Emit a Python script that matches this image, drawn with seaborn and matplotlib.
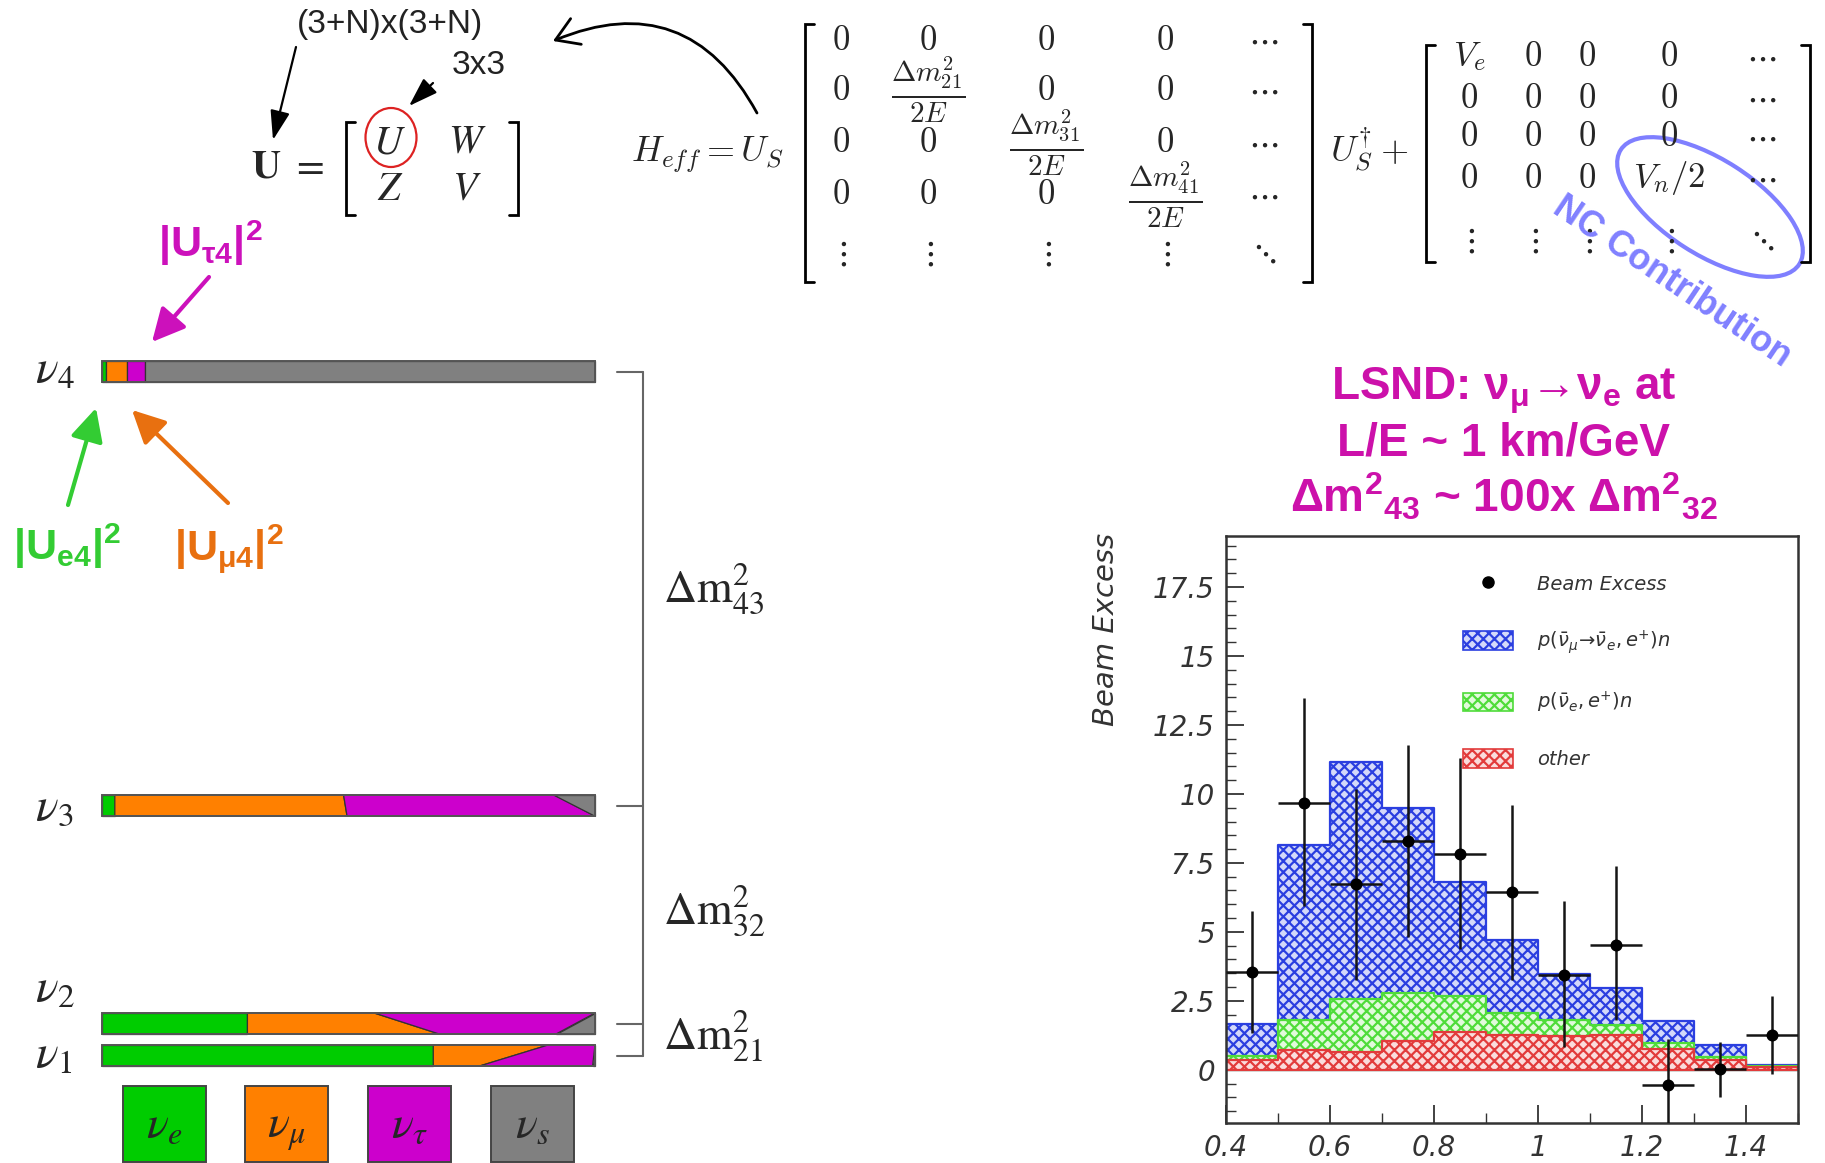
import numpy as np
import pandas as pd
import matplotlib
matplotlib.use("Agg")
import matplotlib.pyplot as plt
import seaborn as sns
from matplotlib.patches import Ellipse, Rectangle, Polygon, FancyArrowPatch, Patch
from matplotlib.lines import Line2D
from matplotlib.ticker import MultipleLocator
from matplotlib.font_manager import FontProperties

# ---------------- data ----------------
bin_edges = [0.4, 0.5, 0.6, 0.7, 0.8, 0.9, 1.0, 1.1, 1.2, 1.3, 1.4, 1.5]
bin_centers = [0.45, 0.55, 0.65, 0.75, 0.85, 0.95, 1.05, 1.15, 1.25, 1.35, 1.45]
osc_stack = [1.67, 8.14, 11.16, 9.49, 6.80, 4.72, 3.47, 2.96, 1.76, 0.88, 0.19]
nue_stack = [0.49, 1.82, 2.56, 2.80, 2.68, 2.05, 1.79, 1.64, 0.97, 0.48, 0.15]
other_bkg = [0.36, 0.70, 0.65, 1.04, 1.37, 1.25, 1.22, 1.26, 0.74, 0.36, 0.10]
excess = [3.53, 9.67, 6.73, 8.29, 7.83, 6.44, 3.45, 4.54, -0.55, 0.03, 1.26]
excess_err_up = [2.23, 3.80, 3.46, 3.47, 3.48, 3.16, 2.65, 2.83, 1.67, 0.98, 1.42]
excess_err_down = [2.19, 3.72, 3.46, 3.48, 3.47, 3.17, 2.63, 2.75, 1.75, 1.00, 1.41]
x_tick_vals = [0.4, 0.6, 0.8, 1.0, 1.2, 1.4]
x_tick_labels = ["0.4", "0.6", "0.8", "1", "1.2", "1.4"]
y_tick_vals = [0, 2.5, 5, 7.5, 10, 12.5, 15, 17.5]
y_tick_labels = ["0", "2.5", "5", "7.5", "10", "12.5", "15", "17.5"]
legend_labels = ["Beam Excess",
                 r"$p(\bar{\nu}_{\mu}\!\rightarrow\!\bar{\nu}_{e},e^{+})n$",
                 r"$p(\bar{\nu}_{e},e^{+})n$",
                 "other"]

mass_states = [r"$\nu_1$", r"$\nu_2$", r"$\nu_3$", r"$\nu_4$"]
flavours = [r"$\nu_e$", r"$\nu_\mu$", r"$\nu_\tau$", r"$\nu_s$"]
# cumulative flavour boundaries (e|mu, mu|tau, tau|s) along top and bottom edge of each bar
mix_top = [[0.672, 0.905, 1.000], [0.295, 0.552, 1.000], [0.026, 0.490, 0.917], [0.009, 0.050, 0.088]]
mix_bottom = [[0.672, 0.766, 0.995], [0.295, 0.684, 0.921], [0.026, 0.497, 1.000], [0.009, 0.050, 0.088]]
splittings = [r"$\Delta\mathrm{m}^2_{21}$", r"$\Delta\mathrm{m}^2_{32}$", r"$\Delta\mathrm{m}^2_{43}$"]

heff_rows = [["0", "0", "0", "0", r"\cdots"],
             ["0", r"\frac{\Delta m^2_{21}}{2E}", "0", "0", r"\cdots"],
             ["0", "0", r"\frac{\Delta m^2_{31}}{2E}", "0", r"\cdots"],
             ["0", "0", "0", r"\frac{\Delta m^2_{41}}{2E}", r"\cdots"],
             [r"\vdots", r"\vdots", r"\vdots", r"\vdots", r"\ddots"]]
pot_rows = [["V_e", "0", "0", "0", r"\cdots"],
            ["0", "0", "0", "0", r"\cdots"],
            ["0", "0", "0", "0", r"\cdots"],
            ["0", "0", "0", "V_n/2", r"\cdots"],
            [r"\vdots", r"\vdots", r"\vdots", r"\vdots", r"\ddots"]]
title_lines = [r"LSND: ν$_{\mathbf{μ}}$→ν$_{\mathbf{e}}$ at",
               "L/E ~ 1 km/GeV",
               r"Δm$^{\mathbf{2}}{}_{\mathbf{43}}$ ~ 100x Δm$^{\mathbf{2}}{}_{\mathbf{32}}$"]

# ---------------- style ----------------
sns.set_theme(style="white")
plt.rcParams["font.family"] = ["Liberation Sans", "DejaVu Sans"]
plt.rcParams["mathtext.fontset"] = "custom"
plt.rcParams["mathtext.rm"] = "Liberation Sans"
plt.rcParams["mathtext.bf"] = "Liberation Sans:bold"
plt.rcParams["mathtext.it"] = "Liberation Sans:italic"
plt.rcParams["hatch.linewidth"] = 1.6

W, H = 1825, 1163
fig = plt.figure(figsize=(W / 100, H / 100), dpi=100)
fig.patch.set_facecolor("white")

# ---------------- histogram ----------------
hx0, hx1, hy0, hy1 = 1226, 1798, 536, 1123
ax_h = fig.add_axes([hx0 / W, 1 - hy1 / H, (hx1 - hx0) / W, (hy1 - hy0) / H])
layer_cols = ["#2b3fe0", "#4fdc3a", "#e23b3b"]
layer_tints = ["#d4d9fa", "#e2fadc", "#fadcdc"]
hatch_pat = "xxx"
for vals, col, tint in zip([osc_stack, nue_stack, other_bkg], layer_cols, layer_tints):
    sns.histplot(x=bin_centers, weights=vals, bins=bin_edges, element="step", fill=True,
                 facecolor=tint, edgecolor=col, hatch=hatch_pat, linewidth=1.6,
                 alpha=1, ax=ax_h)
ax_h.errorbar(bin_centers, excess, xerr=0.05, yerr=[excess_err_down, excess_err_up],
              fmt="none", ecolor="#151515", elinewidth=1.8, capsize=0, zorder=4)
sns.scatterplot(x=bin_centers, y=excess, color="black", s=75, linewidth=0, ax=ax_h, zorder=5)

ax_h.set_xlim(0.4, 1.5)
ax_h.set_ylim(-1.93, 19.35)
ax_h.set_xticks(x_tick_vals)
ax_h.set_xticklabels(x_tick_labels)
ax_h.xaxis.set_minor_locator(MultipleLocator(0.1))
ax_h.set_yticks(y_tick_vals)
ax_h.set_yticklabels(y_tick_labels)
ax_h.yaxis.set_minor_locator(MultipleLocator(0.5))
ax_h.tick_params(which="both", direction="in", bottom=True, left=True, top=False, right=False,
                 color="#333333", labelcolor="#333333")
ax_h.tick_params(which="major", length=13, width=1.3, labelsize=20, pad=8)
ax_h.tick_params(which="minor", length=7, width=1.0)
for lab in ax_h.get_xticklabels() + ax_h.get_yticklabels():
    lab.set_fontstyle("italic")
    lab.set_family("DejaVu Sans")
for sp in ax_h.spines.values():
    sp.set_color("#333333")
    sp.set_linewidth(1.8)
ax_h.set_xlabel("")
ax_h.set_ylabel("Beam Excess", fontsize=21, style="italic", family="DejaVu Sans", color="#333333")
ax_h.yaxis.set_label_coords(-0.185, 0.84)

handles = [Line2D([], [], marker="o", color="black", linestyle="none", markersize=8)]
for col, tint in zip(layer_cols, layer_tints):
    handles.append(Patch(facecolor=tint, edgecolor=col, hatch=hatch_pat, linewidth=1.2))
leg = ax_h.legend(handles, legend_labels, loc="upper left", bbox_to_anchor=(0.414, 0.935),
                  frameon=False, handlelength=2.6, handleheight=1.1, handletextpad=1.2,
                  labelspacing=1.75, borderpad=0, borderaxespad=0,
                  prop=FontProperties(family="DejaVu Sans", style="italic", size=14,
                                      math_fontfamily="dejavusans"))
for t in leg.get_texts():
    t.set_color("#333333")

# ---------------- diagram overlay ----------------
ax_d = fig.add_axes([0, 0, 1, 1])
ax_d.set_xlim(0, W)
ax_d.set_ylim(H, 0)
ax_d.axis("off")

flav_colors = ["#00cc00", "#ff8000", "#cc00cc", "#808080"]
bar_x0, bar_w, bar_h = 102, 493, 21
level_y = [1055.5, 1023.5, 805.5, 371.5]
label_base = [1068, 1002, 820, 383]
for k in range(4):
    yc = level_y[k]
    ytop, ybot = yc - bar_h / 2, yc + bar_h / 2
    tops = [0] + mix_top[k] + [1]
    bots = [0] + mix_bottom[k] + [1]
    for j in range(4):
        xs = [bar_x0 + bar_w * f for f in (tops[j], tops[j + 1], bots[j + 1], bots[j])]
        ys = [ytop, ytop, ybot, ybot]
        ax_d.add_patch(Polygon(list(zip(xs, ys)), closed=True, facecolor=flav_colors[j],
                               edgecolor="#333333", lw=0.9))
    ax_d.add_patch(Rectangle((bar_x0, ytop), bar_w, bar_h, fill=False, edgecolor="#555555", lw=1.4))
    ax_d.text(35, label_base[k], mass_states[k], ha="left", va="baseline", fontsize=34,
              math_fontfamily="stix")

# splitting bracket
bx = 643
ax_d.plot([bx, bx], [level_y[3], level_y[0]], color="#666666", lw=1.5)
for yl in level_y:
    ax_d.plot([617, bx], [yl, yl], color="#666666", lw=1.5)
for s, yb in zip(splittings, [1050, 924, 602]):
    ax_d.text(663, yb, s, ha="left", va="baseline", fontsize=33, math_fontfamily="stix")

# flavour legend squares
for j, xc in enumerate([164.5, 287, 410, 532.5]):
    ax_d.add_patch(Rectangle((xc - 41.5, 1086), 83, 76, facecolor=flav_colors[j],
                             edgecolor="#444444", lw=1.4))
    ax_d.text(xc, 1138, flavours[j], ha="center", va="baseline", fontsize=33,
              math_fontfamily="stix")


def arrow(p0, p1, color, lw, hl, hw, ms=20):
    ax_d.add_patch(FancyArrowPatch(p0, p1, arrowstyle=f"-|>,head_length={hl},head_width={hw}",
                                   mutation_scale=ms, color=color, lw=lw,
                                   shrinkA=0, shrinkB=0))


arrow((296, 47), (273, 140), "black", 1.6, 0.9, 0.3)
arrow((433, 83), (409, 106), "black", 1.6, 0.9, 0.3)
arrow((209, 277), (152, 342), "#cc11bb", 3, 1.0, 0.5)
arrow((68, 505), (96, 408), "#33cc33", 3, 1.0, 0.5)
arrow((228, 503), (132, 410), "#e87010", 3, 1.0, 0.5)
ax_d.add_patch(FancyArrowPatch((757, 113), (553, 41), connectionstyle="arc3,rad=0.45",
                               arrowstyle="->,head_length=0.8,head_width=0.5",
                               mutation_scale=20, lw=2, color="black", shrinkA=0, shrinkB=0))

ax_d.text(390, 25, "(3+N)x(3+N)", ha="center", va="center", fontsize=24, color="#222222")
ax_d.text(479, 65, "3x3", ha="center", va="center", fontsize=24, color="#222222")

# U matrix
ax_d.text(266, 177, r"$\mathbf{U}$", ha="center", va="baseline", fontsize=29, math_fontfamily="stix")
ax_d.text(308, 177, r"$=$", ha="center", va="baseline", fontsize=29, math_fontfamily="stix")
for s, (x, y) in zip(["U", "W", "Z", "V"], [(389, 153), (467, 153), (390, 200), (467, 200)]):
    ax_d.text(x, y, f"${s}$", ha="center", va="baseline", fontsize=29, math_fontfamily="stix")
ax_d.add_patch(Ellipse((391, 137.5), 51, 59, fill=False, edgecolor="#dd2222", lw=1.6))


def bracket(x, y0, y1, side, serif=9, lw=2.0):
    d = serif if side == "left" else -serif
    ax_d.plot([x + d, x, x, x + d], [y0, y0, y1, y1], color="black", lw=lw,
              solid_joinstyle="miter")


bracket(346, 122, 215, "left")
bracket(518, 122, 215, "right")

# Hamiltonian
ax_d.text(783, 162, r"$H_{eff} = U_S$", ha="right", va="baseline", fontsize=26, math_fontfamily="cm")
bracket(805, 24, 282, "left")
bracket(1312, 24, 282, "right")
for r, yr in enumerate([40, 90, 143, 195, 253]):
    for c, xc in enumerate([841, 928, 1046, 1165, 1263]):
        s = heff_rows[r][c]
        fs = 30 if s.startswith(r"\frac") else 25
        ax_d.text(xc, yr, f"${s}$", ha="center", va="center", fontsize=fs, math_fontfamily="cm")
ax_d.text(1330, 162, r"$U_S^{\dagger} +$", ha="left", va="baseline", fontsize=26, math_fontfamily="cm")
bracket(1426, 45, 262, "left")
bracket(1810, 45, 262, "right")
for r, yr in enumerate([57, 98, 137, 178, 240]):
    for c, xc in enumerate([1469, 1533, 1587, 1669, 1761]):
        ax_d.text(xc, yr, f"${pot_rows[r][c]}$", ha="center", va="center", fontsize=25,
                  math_fontfamily="cm")

ax_d.add_patch(Ellipse((1710, 207), 212, 95, angle=32.7, fill=False, edgecolor="#7f7fff", lw=3))
ax_d.text(1672, 282, "NC Contribution", ha="center", va="center", rotation=-33.9,
          rotation_mode="anchor", fontsize=26, fontweight="bold", color="#8080ff")

# colored mixing labels
ax_d.text(158, 257, r"|U$_{\mathbf{τ4}}$|$^{\mathbf{2}}$", ha="left", va="baseline", fontsize=31,
          fontweight="bold", color="#cc11bb")
ax_d.text(13, 560, r"|U$_{\mathbf{e4}}$|$^{\mathbf{2}}$", ha="left", va="baseline", fontsize=31,
          fontweight="bold", color="#33cc33")
ax_d.text(174, 560, r"|U$_{\mathbf{μ4}}$|$^{\mathbf{2}}$", ha="left", va="baseline", fontsize=31,
          fontweight="bold", color="#e87010")

# LSND title
for line, yb in zip(title_lines, [400, 455, 512]):
    ax_d.text(1504, yb, line, ha="center", va="baseline", fontsize=33, fontweight="bold",
              color="#cc11aa")

fig.savefig("out.png", dpi=100)
